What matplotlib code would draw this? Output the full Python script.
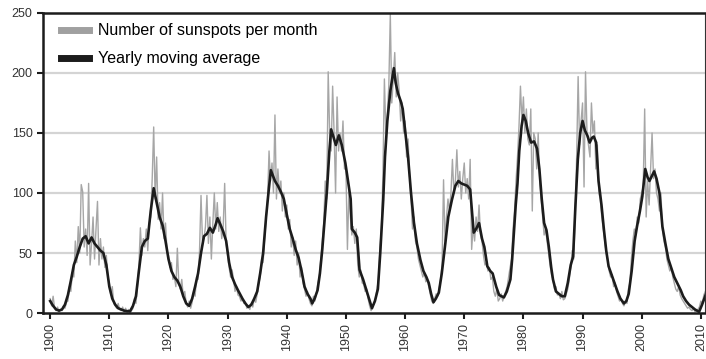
import matplotlib.pyplot as plt
import numpy as np
from matplotlib.lines import Line2D

plt.rcParams['font.family'] = ['Liberation Sans', 'DejaVu Sans']

# sunspot number, four readings per year from 1900.0 to 2010.75
monthly = [
    12, 6, 14, 4,    2, 5, 1, 3,      2, 6, 4, 9,      10, 22, 18, 34,   30, 60, 42, 72,
    50, 107, 101, 55, 70, 48, 108, 40, 58, 80, 45, 70,  93, 40, 62, 45,   55, 38, 48, 30,
    25, 15, 22, 8,   6, 4, 8, 3,      2, 5, 1, 4,      1, 3, 0, 2,       4, 12, 8, 22,
    40, 71, 48, 62,  55, 70, 52, 75,  80, 112, 155, 95, 130, 78, 92, 70, 100, 62, 75, 52,
    48, 38, 42, 28,  30, 22, 54, 24,  20, 28, 14, 18,  8, 5, 10, 4,      9, 18, 14, 30,
    28, 52, 98, 60,  62, 72, 98, 58,  80, 45, 75, 100, 70, 92, 68, 80,   62, 72, 108, 58,
    48, 38, 30, 36,  28, 18, 22, 15,  14, 10, 12, 8,   9, 4, 6, 3,       8, 5, 12, 9,
    16, 24, 30, 45,  42, 62, 78, 95,  135, 110, 125, 100, 165, 95, 120, 100, 110, 85, 100, 80,
    90, 70, 78, 55,  63, 48, 60, 40,  50, 30, 38, 25,  20, 14, 18, 12,   8, 6, 14, 10,
    16, 25, 30, 45,  60, 75, 110, 95, 201, 150, 135, 189, 150, 100, 180, 135, 150, 135, 160, 120,
    120, 53, 101, 80, 65, 72, 58, 70, 40, 30, 36, 25,  24, 18, 20, 12,   6, 2, 5, 8,
    12, 20, 28, 55,  70, 115, 195, 150, 165, 190, 249, 175, 195, 217, 180, 200, 185, 160, 175, 150,
    160, 130, 145, 115, 95, 70, 80, 60, 55, 45, 40, 35, 30, 34, 26, 28,  22, 16, 10, 8,
    12, 16, 14, 20,  28, 40, 111, 60, 80, 95, 85, 100, 128, 100, 110, 136, 105, 118, 95, 112,
    125, 100, 112, 95, 128, 53, 72, 60, 80, 68, 90, 65, 60, 48, 40, 42,  35, 38, 28, 30,
    18, 14, 20, 10,  12, 16, 10, 14,  18, 22, 30, 38,  45, 70, 85, 110,  130, 155, 189, 160,
    180, 150, 170, 145, 140, 170, 85, 150, 145, 120, 150, 110, 95, 80, 65, 70, 60, 50, 40, 32,
    28, 20, 22, 15,  16, 12, 18, 11,  12, 16, 20, 28,  38, 52, 45, 80,   130, 197, 140, 160,
    175, 105, 201, 150, 140, 130, 175, 150, 160, 120, 140, 100, 95, 80, 70, 60, 50, 45, 35, 30,
    32, 22, 25, 18,  14, 10, 12, 8,   6, 10, 8, 20,    25, 45, 60, 70,   65, 80, 75, 95,
    100, 105, 170, 80, 110, 90, 120, 150, 112, 120, 100, 95, 85, 100, 70, 60, 55, 45, 40, 35,
    38, 30, 25, 20,  18, 22, 15, 12,  10, 8, 6, 4,     5, 3, 2, 4,       1, 2, 3, 5,
    10, 8, 15, 18,
]
monthly_years = 1900 + np.arange(len(monthly)) * 0.25

# yearly moving average
ma_years = [
    1900.0, 1900.5, 1901.0, 1901.5, 1902.0, 1902.5, 1903.0, 1903.5, 1904.0, 1904.5,
    1905.0, 1905.5, 1906.0, 1906.5, 1907.0, 1907.5, 1908.0, 1908.5, 1909.0, 1909.5,
    1910.0, 1910.5, 1911.0, 1911.5, 1912.0, 1912.5, 1913.0, 1913.5, 1914.0, 1914.5,
    1915.0, 1915.5, 1916.0, 1916.5, 1917.0, 1917.5, 1918.0, 1918.5, 1919.0, 1919.5,
    1920.0, 1920.5, 1921.0, 1921.5, 1922.0, 1922.5, 1923.0, 1923.5, 1924.0, 1924.5,
    1925.0, 1925.5, 1926.0, 1926.5, 1927.0, 1927.5, 1928.0, 1928.3, 1928.75, 1929.25,
    1929.75, 1930.25, 1930.75, 1931.25, 1931.75, 1932.5, 1933.0, 1933.5, 1934.0, 1934.5,
    1935.0, 1935.5, 1936.0, 1936.5, 1937.0, 1937.3, 1938.0, 1938.5, 1939.0, 1939.5,
    1940.0, 1940.5, 1941.0, 1941.5, 1942.0, 1942.5, 1943.0, 1943.5, 1944.0, 1944.3,
    1944.7, 1945.2, 1945.6, 1946.0, 1946.4, 1946.8, 1947.2, 1947.5, 1948.0, 1948.3,
    1948.8, 1949.3, 1949.9, 1950.4, 1950.8, 1951.0, 1951.5, 1951.9, 1952.3, 1952.9,
    1953.4, 1953.9, 1954.4, 1954.9, 1955.4, 1955.8, 1956.3, 1956.6, 1957.0, 1957.5,
    1958.1, 1958.4, 1958.8, 1959.3, 1959.6, 1960.0, 1960.5, 1961.0, 1961.5, 1962.0,
    1962.6, 1963.1, 1963.6, 1964.0, 1964.4, 1964.8, 1965.2, 1965.7, 1966.2, 1966.8,
    1967.3, 1967.9, 1968.5, 1969.0, 1969.5, 1970.0, 1970.5, 1971.0, 1971.6, 1972.0,
    1972.5, 1973.0, 1973.4, 1973.9, 1974.4, 1974.8, 1975.4, 1975.9, 1976.3, 1976.7,
    1977.2, 1977.8, 1978.1, 1978.4, 1978.7, 1979.0, 1979.3, 1979.7, 1980.0, 1980.4,
    1980.8, 1981.3, 1981.8, 1982.3, 1982.7, 1983.1, 1983.5, 1983.9, 1984.3, 1984.7,
    1985.0, 1985.5, 1986.0, 1986.5, 1987.0, 1987.5, 1988.0, 1988.4, 1988.8, 1989.2,
    1989.6, 1990.0, 1990.4, 1990.8, 1991.2, 1991.6, 1991.9, 1992.3, 1992.7, 1993.2,
    1993.6, 1994.0, 1994.4, 1994.9, 1995.4, 1995.9, 1996.4, 1997.0, 1997.4, 1997.8,
    1998.3, 1998.8, 1999.2, 1999.7, 2000.1, 2000.6, 2001.0, 2001.3, 2002.1, 2002.5,
    2003.0, 2003.5, 2004.0, 2004.5, 2004.9, 2005.5, 2006.0, 2006.6, 2007.0, 2007.5,
    2008.0, 2008.5, 2009.0, 2009.7, 2010.2, 2010.8,
]
ma_values = [
    10, 6, 3, 2, 3, 7, 15, 27, 40, 47,
    55, 62, 64, 58, 63, 58, 55, 52, 50, 40,
    22, 12, 7, 4, 3, 2, 1.5, 1.5, 6, 14,
    35, 55, 60, 62, 85, 104, 92, 80, 73, 60,
    45, 35, 30, 27, 22, 14, 8, 6, 12, 22,
    33, 50, 64, 66, 71, 67, 74, 79, 74, 68,
    60, 42, 30, 24, 19, 12, 8, 5, 7, 12,
    18, 33, 50, 80, 105, 119, 110, 106, 101, 95,
    82, 70, 62, 53, 46, 35, 22, 16, 12, 8,
    12, 19, 33, 53, 78, 103, 135, 153, 145, 140,
    148, 140, 125, 108, 95, 70, 67, 63, 36, 28,
    20, 12, 4, 10, 20, 50, 94, 130, 160, 185,
    204, 192, 183, 176, 170, 152, 130, 100, 75, 58,
    44, 35, 30, 25, 16, 9, 12, 17, 33, 58,
    80, 94, 106, 110, 108, 107, 106, 103, 67, 70,
    75, 62, 55, 39, 35, 33, 22, 15, 14, 13,
    18, 28, 45, 67, 90, 108, 135, 156, 165, 160,
    150, 142, 143, 137, 120, 95, 75, 69, 55, 38,
    28, 18, 16, 14, 14, 25, 40, 47, 90, 128,
    150, 160, 152, 148, 142, 146, 147, 142, 110, 90,
    70, 52, 39, 32, 25, 18, 12, 8, 10, 16,
    35, 60, 72, 85, 97, 120, 113, 110, 118, 112,
    100, 72, 58, 45, 39, 30, 25, 19, 14, 10,
    7, 5, 3, 1, 7, 15,
]

decades = list(range(1900, 2011, 10))
y_ticks = [0, 50, 100, 150, 200, 250]

fig = plt.figure(figsize=(7.06, 3.59), dpi=100)
ax = fig.add_axes([0.061, 0.128, 0.9376, 0.836])

for y in y_ticks[1:-1]:
    ax.axhline(y, color='#d4d4d4', lw=1.6, zorder=0)

ax.plot(monthly_years, monthly, color='#a6a6a6', lw=1.0, zorder=1)
ax.plot(ma_years, ma_values, color='#1c1c1c', lw=1.9, zorder=2)

ax.set_xlim(1898.8, 2010.7)
ax.set_ylim(0, 250)
ax.set_xticks(decades)
ax.set_xticklabels([str(d) for d in decades], rotation=90)
ax.set_yticks(y_ticks)
ax.tick_params(axis='both', direction='out', length=4, width=1.5,
               labelsize=9, labelcolor='#333333', color='#1c1c1c')

for side in ['top', 'bottom', 'left']:
    ax.spines[side].set_linewidth(1.8)
    ax.spines[side].set_color('#1c1c1c')
ax.spines['right'].set_linewidth(0.8)
ax.spines['right'].set_color('#333333')

handles = [Line2D([], [], color='#a0a0a0', lw=5),
           Line2D([], [], color='#1c1c1c', lw=5)]
ax.legend(handles, ['Number of sunspots per month', 'Yearly moving average'],
          loc='upper left', bbox_to_anchor=(0.0265, 0.965), frameon=False,
          fontsize=11.5, handlelength=1.8, handletextpad=0.55, labelspacing=0.8,
          borderpad=0, borderaxespad=0)

fig.savefig('out.png', dpi=100)
